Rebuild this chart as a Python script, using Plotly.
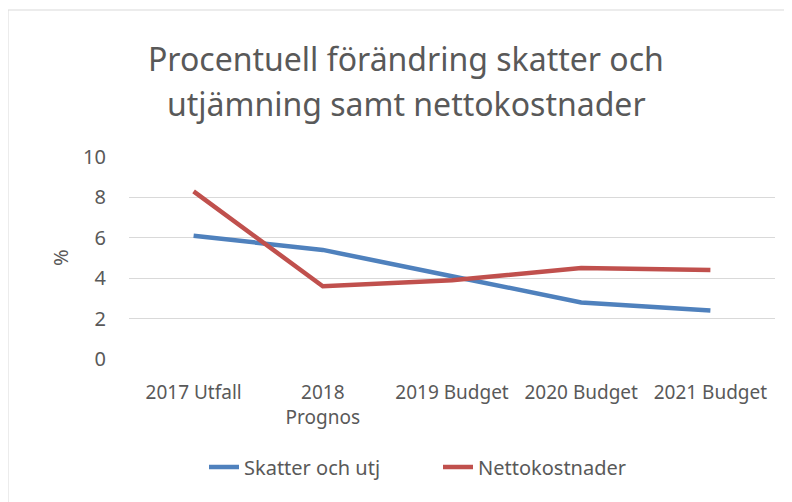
import plotly.graph_objects as go

categories = ["2017 Utfall", "2018 Prognos", "2019 Budget", "2020 Budget", "2021 Budget"]
tick_labels = ["2017 Utfall", "2018<br>Prognos", "2019 Budget", "2020 Budget", "2021 Budget"]
skatter = [6.1, 5.4, 4.1, 2.8, 2.4]
netto = [8.3, 3.6, 3.9, 4.5, 4.4]

font = "Noto Sans"
grey = "#595959"

fig = go.Figure()
fig.add_trace(go.Scatter(x=categories, y=skatter, mode="lines", name="Skatter och utj",
                         line=dict(color="#4F81BD", width=4.5)))
fig.add_trace(go.Scatter(x=categories, y=netto, mode="lines", name="Nettokostnader",
                         line=dict(color="#C0504D", width=4.5)))

W, H = 792, 502
OFF = 8  # page body margin offset
# target pixel positions in the screenshot
PL, PR, PT, PB = 129, 775, 157, 359
L, T = PL - OFF, PT - OFF
R, B = W - (PR - OFF), H - (PB - OFF)
pw, ph = W - L - R, H - T - B

def px(x):
    return (x - OFF - L) / pw

def py(y):
    return (H - B - (y - OFF)) / ph

fig.update_layout(
    width=W, height=H,
    margin=dict(l=L, r=R, t=T, b=B, autoexpand=False),
    paper_bgcolor="white", plot_bgcolor="white",
    font=dict(family=font, color=grey, size=19),
    showlegend=True,
    legend=dict(orientation="h", xref="container", yref="container",
                x=(204 - OFF) / W, xanchor="left", y=1 - (467 - OFF) / H, yanchor="middle",
                entrywidth=189, entrywidthmode="pixels",
                font=dict(size=20, color=grey), bgcolor="rgba(0,0,0,0)"),
    xaxis=dict(tickmode="array", tickvals=categories, ticktext=tick_labels,
               range=[-0.5, 4.5], automargin=False,
               showgrid=False, showline=False, ticks="", ticklabelstandoff=20,
               tickfont=dict(size=19, color=grey)),
    yaxis=dict(range=[0, 10], dtick=2, showgrid=True, gridcolor="#d9d9d9", gridwidth=1.3,
               zeroline=False, showline=False, ticks="", automargin=False, ticklabelstandoff=22,
               tickfont=dict(size=20, color=grey)),
    annotations=[
        dict(text="Procentuell förändring skatter och", x=px(406), y=py(58), xref="paper", yref="paper",
             showarrow=False, font=dict(size=32, color=grey, family=font), xanchor="center", yanchor="middle"),
        dict(text="utjämning samt nettokostnader", x=px(406), y=py(103), xref="paper", yref="paper",
             showarrow=False, font=dict(size=32, color=grey, family=font), xanchor="center", yanchor="middle"),
        dict(text="%", x=px(60), y=py(258), xref="paper", yref="paper", textangle=-90,
             showarrow=False, font=dict(size=20, color=grey, family=font), xanchor="center", yanchor="middle"),
    ],
    shapes=[dict(type="rect", xref="paper", yref="paper", x0=px(8), x1=px(786), y0=py(510), y1=py(10),
                 line=dict(color="#d9d9d9", width=1), layer="below")],
)

fig.write_html("out.html")
